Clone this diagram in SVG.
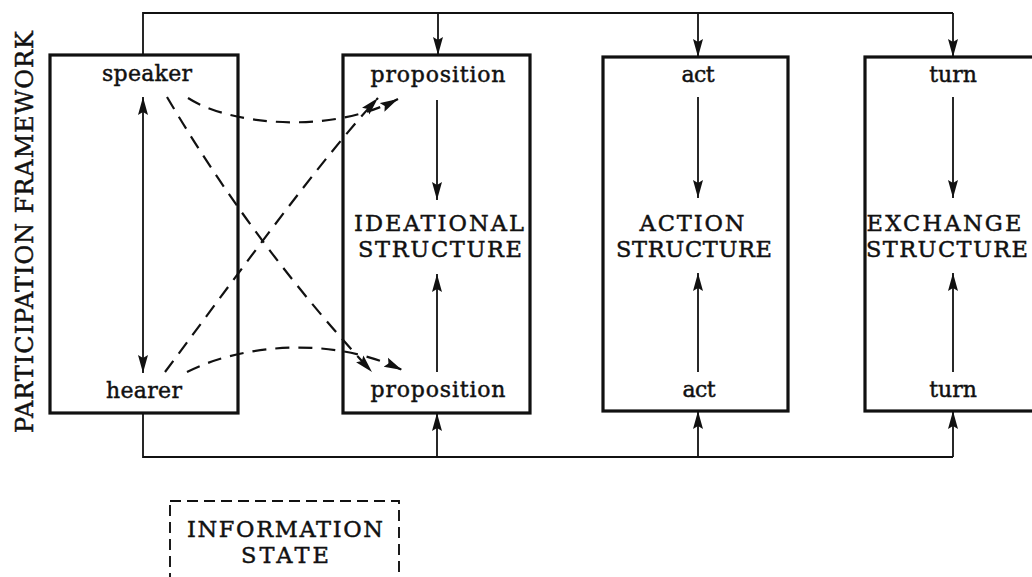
<svg xmlns="http://www.w3.org/2000/svg" width="1032" height="577" viewBox="0 0 1032 577">
<style>
.box{fill:none;stroke:#111;stroke-width:3.2}
.ln{fill:none;stroke:#111;stroke-width:1.8}
.dash{fill:none;stroke:#111;stroke-width:2.2;stroke-dasharray:14 9}
.t{font-family:"DejaVu Serif","Liberation Serif",serif;fill:#111;stroke:#111;stroke-width:0.45;text-anchor:middle}
.lc{font-size:22px}
.uc{font-size:22.5px}
</style>
<defs>
<marker id="ah" markerUnits="userSpaceOnUse" markerWidth="20" markerHeight="12" refX="18" refY="5.5" orient="auto-start-reverse">
<path d="M0,0.5 L18,5.5 L0,10.5 L3,5.5 z" fill="#111"/>
</marker>
</defs>
<rect width="1032" height="577" fill="#fff"/>

<text class="t" x="33" y="232" font-size="24" transform="rotate(-90 33 232)" textLength="402" lengthAdjust="spacing">PARTICIPATION FRAMEWORK</text>

<g id="participation">
<rect class="box" x="50" y="55" width="188" height="358"/>
<text class="t lc" x="147" y="81" textLength="90" lengthAdjust="spacing">speaker</text>
<text class="t lc" x="144" y="398" textLength="76" lengthAdjust="spacing">hearer</text>
</g>

<g id="ideational">
<rect class="box" x="343" y="55" width="187" height="358"/>
<text class="t lc" x="438" y="82" textLength="135" lengthAdjust="spacing">proposition</text>
<text class="t uc" x="439" y="231" textLength="170" lengthAdjust="spacing">IDEATIONAL</text>
<text class="t uc" x="440" y="257" textLength="164" lengthAdjust="spacing">STRUCTURE</text>
<text class="t lc" x="438" y="397" textLength="135" lengthAdjust="spacing">proposition</text>
</g>

<g id="action">
<rect class="box" x="603" y="57" width="185" height="354"/>
<text class="t lc" x="698" y="82" textLength="33" lengthAdjust="spacing">act</text>
<text class="t uc" x="692" y="231" textLength="105" lengthAdjust="spacing">ACTION</text>
<text class="t uc" x="694" y="257" textLength="156" lengthAdjust="spacing">STRUCTURE</text>
<text class="t lc" x="699" y="397" textLength="33" lengthAdjust="spacing">act</text>
</g>

<g id="exchange">
<rect class="box" x="865" y="57" width="190" height="354"/>
<text class="t lc" x="953" y="82">turn</text>
<text class="t uc" x="944" y="231" textLength="155" lengthAdjust="spacing">EXCHANGE</text>
<text class="t uc" x="947" y="257" textLength="162" lengthAdjust="spacing">STRUCTURE</text>
<text class="t lc" x="953" y="397">turn</text>
</g>

<g id="information-state">
<rect x="170" y="501" width="229" height="110" fill="none" stroke="#111" stroke-width="1.9" stroke-dasharray="11 6"/>
<text class="t" x="285" y="537" font-size="22.5" textLength="196" lengthAdjust="spacing">INFORMATION</text>
<text class="t" x="285" y="563" font-size="22.5" textLength="88" lengthAdjust="spacing">STATE</text>
</g>

<g id="connectors">
<path class="ln" d="M143,55 V13 H953"/>
<path class="ln" d="M438,13 V55" marker-end="url(#ah)"/>
<path class="ln" d="M698,13 V57" marker-end="url(#ah)"/>
<path class="ln" d="M953,13 V57" marker-end="url(#ah)"/>
<path class="ln" d="M143,413 V457 H953"/>
<path class="ln" d="M437,457 V413" marker-end="url(#ah)"/>
<path class="ln" d="M698,457 V411" marker-end="url(#ah)"/>
<path class="ln" d="M953,457 V411" marker-end="url(#ah)"/>

<path class="ln" d="M143,97 V373" marker-start="url(#ah)" marker-end="url(#ah)"/>
<path class="ln" d="M437,100 V200" marker-end="url(#ah)"/>
<path class="ln" d="M437,372 V274" marker-end="url(#ah)"/>
<path class="ln" d="M698,97 V198" marker-end="url(#ah)"/>
<path class="ln" d="M698,372 V273" marker-end="url(#ah)"/>
<path class="ln" d="M953,97 V198" marker-end="url(#ah)"/>
<path class="ln" d="M953,372 V273" marker-end="url(#ah)"/>

<path class="dash" d="M188,98 C230,125 330,135 398,99" marker-end="url(#ah)"/>
<path class="dash" d="M167,97 Q254,245 372,372" marker-end="url(#ah)"/>
<path class="dash" d="M165,372 C230,285 320,160 378,98" marker-end="url(#ah)"/>
<path class="dash" d="M187,372 C240,345 330,335 402,370" marker-end="url(#ah)"/>
</g>
</svg>
